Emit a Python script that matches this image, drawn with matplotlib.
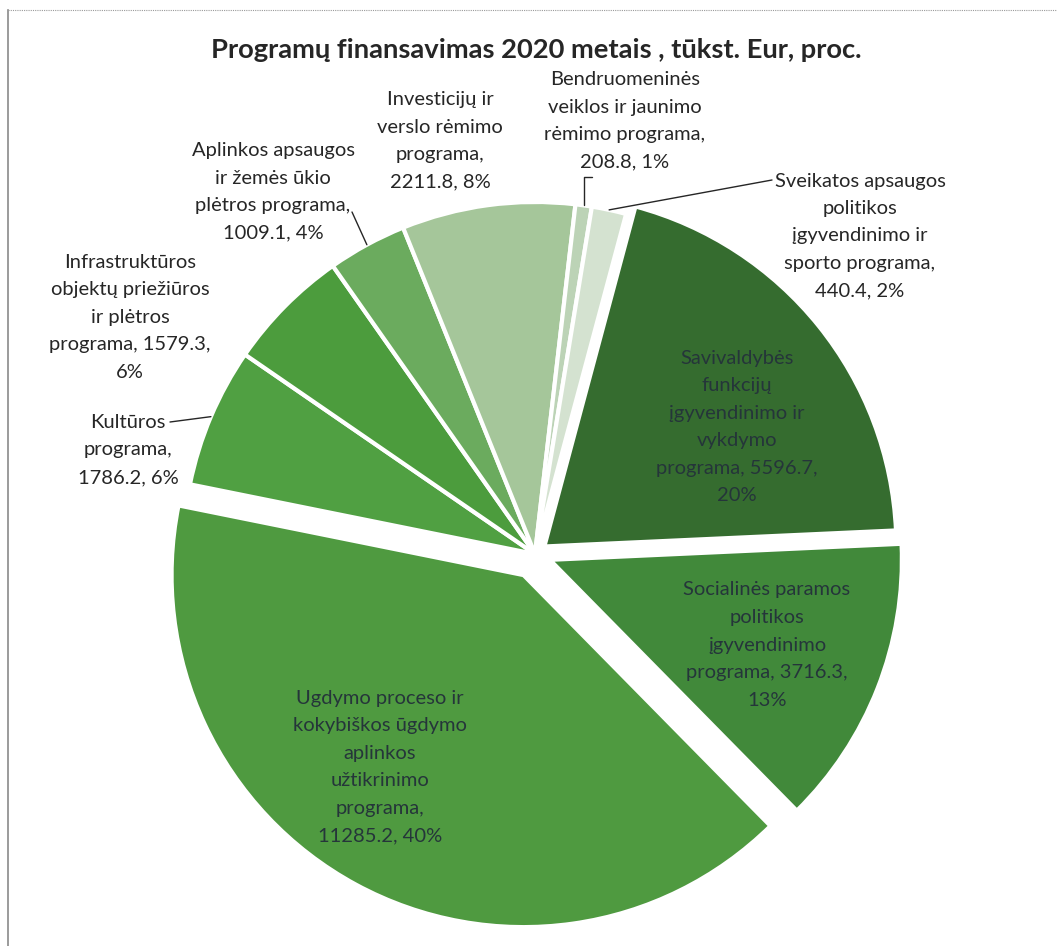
import math
import matplotlib
matplotlib.use("Agg")
import matplotlib.pyplot as plt

# data (tūkst. Eur), clockwise from the top-right
programs = [
    "Savivaldybės\nfunkcijų\nįgyvendinimo ir\nvykdymo\nprograma",
    "Socialinės paramos\npolitikos\nįgyvendinimo\nprograma",
    "Ugdymo proceso ir\nkokybiškos ūgdymo\naplinkos\nužtikrinimo\nprograma",
    "Kultūros\nprograma",
    "Infrastruktūros\nobjektų priežiūros\nir plėtros\nprograma",
    "Aplinkos apsaugos\nir žemės ūkio\nplėtros programa",
    "Investicijų ir\nverslo rėmimo\nprograma",
    "Bendruomeninės\nveiklos ir jaunimo\nrėmimo programa",
    "Sveikatos apsaugos\npolitikos\nįgyvendinimo ir\nsporto programa",
]
amounts = [5596.7, 3716.3, 11285.2, 1786.2, 1579.3, 1009.1, 2211.8, 208.8, 440.4]
percents = [20, 13, 40, 6, 6, 4, 8, 1, 2]
colors = ["#356c2f", "#41893a", "#4f9a40", "#50a042", "#4c9c3d",
          "#6bab5e", "#a5c69a", "#bcd3b6", "#d4e2d0"]

W, H = 1057, 946
fig = plt.figure(figsize=(W / 100, H / 100), dpi=100)
ax = fig.add_axes([0, 0, 1, 1])


def px(x, y):
    return x, H - y


cx, cy = 535, 554
r = 352
explode = [12, 16, 24, 0, 0, 0, 0, 0, 0]
wedges, _ = ax.pie(amounts, center=px(cx, cy), radius=r, explode=explode,
                   startangle=75, counterclock=False, colors=colors,
                   wedgeprops=dict(edgecolor="white", linewidth=3))
ax.set_xlim(0, W)
ax.set_ylim(0, H)
ax.set_aspect("auto")
ax.axis("off")

font = "Lato"
fs = 14.5
ls = 1.75

# label texts, {1} = amount, {2} = percent
label_fmt = {
    0: (737, 427, "Savivaldybės\nfunkcijų\nįgyvendinimo ir\nvykdymo\nprograma, {1},\n{2}"),
    1: (767, 645, "Socialinės paramos\npolitikos\nįgyvendinimo\nprograma, {1},\n{2}"),
    2: (380, 767, "Ugdymo proceso ir\nkokybiškos ūgdymo\naplinkos\nužtikrinimo\nprograma,\n{1}, {2}"),
    3: (128, 450, "Kultūros\nprograma,\n{1}, {2}"),
    4: (130, 317, "Infrastruktūros\nobjektų priežiūros\nir plėtros\nprograma, {1},\n{2}"),
    5: (273, 192, "Aplinkos apsaugos\nir žemės ūkio\nplėtros programa,\n{1}, {2}"),
    6: (440, 141, "Investicijų ir\nverslo rėmimo\nprograma,\n{1}, {2}"),
    7: (625, 121, "Bendruomeninės\nveiklos ir jaunimo\nrėmimo programa,\n{1}, {2}"),
    8: (860, 236, "Sveikatos apsaugos\npolitikos\nįgyvendinimo ir\nsporto programa,\n{1}, {2}"),
}
for i, (x, y, t) in label_fmt.items():
    txt = t.format(programs[i], f"{amounts[i]:.1f}", f"{percents[i]}%")
    col = "#25353a" if i < 3 else "#262626"
    ax.text(*px(x, y), txt, ha="center", va="center",
            fontsize=fs, family=font, color=col, linespacing=ls)


def edge_point(i):
    w = wedges[i]
    a = math.radians((w.theta1 + w.theta2) / 2)
    x0, y0 = w.center
    return x0 + w.r * math.cos(a), y0 + w.r * math.sin(a)


leaders = {3: ((170, 422), "arc3"),
           5: ((352, 212), "arc3"),
           7: ((592, 177), "angle,angleA=180,angleB=90,rad=0"),
           8: ((772, 180), "arc3")}
for i, (start, style) in leaders.items():
    ax.annotate("", xy=edge_point(i), xytext=px(*start),
                arrowprops=dict(arrowstyle="-", color="#262626", lw=1.0,
                                shrinkA=0, shrinkB=0, connectionstyle=style))

ax.text(*px(536, 50), "Programų finansavimas 2020 metais , tūkst. Eur, proc.",
        ha="center", va="center", fontsize=19.7, fontweight="bold", family=font,
        color="#262626")

# frame of the scanned page
ax.plot([8, 8], [0, H - 10], color="#8a8a8a", lw=1.2)
ax.plot([8, W], [H - 10, H - 10], color="#9a9a9a", lw=0.8, ls=(0, (1, 1)))

fig.savefig("out.png", dpi=100)
